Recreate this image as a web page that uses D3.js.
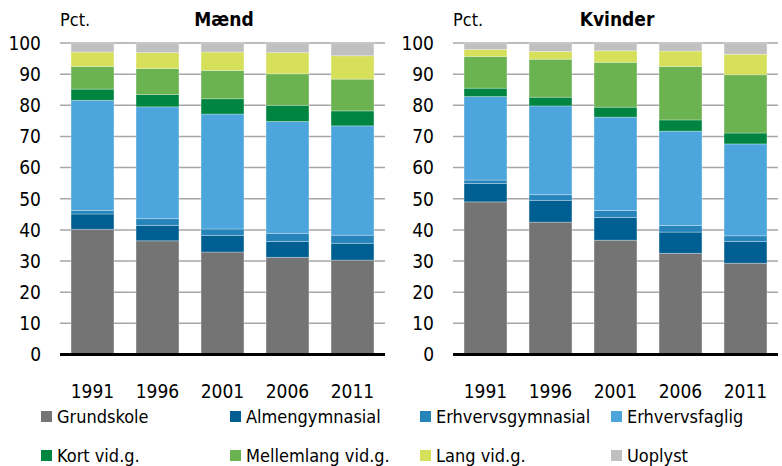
<!DOCTYPE html>
<html>
<head>
<meta charset="utf-8">
<script src="https://cdn.jsdelivr.net/npm/d3@7"></script>
<style>
  body { margin: 0; background: #fff; }
  text { font-family: "DejaVu Sans Condensed", "DejaVu Sans", sans-serif; font-stretch: condensed; fill: #000; }
</style>
</head>
<body>
<div id="chart"></div>
<script>
// Data (percent)
const years = ["1991", "1996", "2001", "2006", "2011"];
const categories = ["Grundskole", "Almengymnasial", "Erhvervsgymnasial", "Erhvervsfaglig",
  "Kort vid.g.", "Mellemlang vid.g.", "Lang vid.g.", "Uoplyst"];
const colors = ["#747474", "#005f92", "#2784bb", "#4ca5dc", "#008540", "#6bb251", "#d7e05a", "#c0c0c0"];
const yTicks = [0, 10, 20, 30, 40, 50, 60, 70, 80, 90, 100];

// one array per year, categories in order above
const maend1991 = [40.2, 4.9, 1.1, 35.4, 3.6, 7.3, 4.6, 2.9];
const maend1996 = [36.5, 4.9, 2.2, 35.9, 4.0, 8.3, 5.1, 3.1];
const maend2001 = [32.9, 5.3, 2.1, 36.9, 4.9, 9.1, 5.9, 2.9];
const maend2006 = [31.2, 5.1, 2.6, 35.9, 5.2, 10.1, 6.8, 3.1];
const maend2011 = [30.3, 5.4, 2.6, 35.1, 4.8, 10.2, 7.5, 4.1];

const kvinder1991 = [49.0, 5.9, 1.1, 26.8, 2.7, 10.2, 2.2, 2.1];
const kvinder1996 = [42.5, 7.0, 1.8, 28.5, 2.8, 12.2, 2.5, 2.7];
const kvinder2001 = [36.7, 7.3, 2.2, 30.0, 3.2, 14.4, 3.7, 2.5];
const kvinder2006 = [32.5, 6.8, 2.1, 30.3, 3.6, 17.2, 4.9, 2.6];
const kvinder2011 = [29.3, 7.0, 1.8, 29.5, 3.5, 18.7, 6.6, 3.6];

const width = 782, height = 466;

const svg = d3.select("#chart")
  .append("svg")
  .attr("width", width)
  .attr("height", height);

// turn per-year arrays into rows for d3.stack
function toRows(arrays) {
  return years.map((yr, i) => {
    const row = { year: yr };
    categories.forEach((c, j) => { row[c] = arrays[i][j]; });
    return row;
  });
}

const stack = d3.stack().keys(categories);

const y = d3.scaleLinear().domain([0, 100]).range([354.5, 43]);

function drawPanel(left, title, arrays) {
  const x = d3.scaleBand().domain(years).range([left, left + 325]).paddingInner(0.34).paddingOuter(0.17);
  const g = svg.append("g");

  // gridlines
  g.append("g")
    .selectAll("line")
    .data(yTicks.filter(d => d > 0))
    .enter()
    .append("line")
    .attr("x1", left)
    .attr("x2", left + 325)
    .attr("y1", d => y(d))
    .attr("y2", d => y(d))
    .attr("stroke", "#a6a6a6")
    .attr("stroke-width", 1.5);

  // bars
  const series = stack(toRows(arrays));
  g.append("g")
    .selectAll("g")
    .data(series)
    .enter()
    .append("g")
    .attr("fill", (d, i) => colors[i])
    .selectAll("rect")
    .data(d => d)
    .enter()
    .append("rect")
    .attr("x", d => x(d.data.year))
    .attr("width", x.bandwidth())
    .attr("y", d => y(d[1]))
    .attr("height", d => y(d[0]) - y(d[1]))
    .attr("stroke", "rgba(255,255,255,0.35)")
    .attr("stroke-width", 0.8);

  // baseline
  g.append("line")
    .attr("x1", left)
    .attr("x2", left + 325)
    .attr("y1", y(0))
    .attr("y2", y(0))
    .attr("stroke", "#000")
    .attr("stroke-width", 3);

  // y labels
  g.append("g")
    .selectAll("text")
    .data(yTicks)
    .enter()
    .append("text")
    .attr("x", left - 19)
    .attr("y", d => y(d))
    .attr("dy", "0.36em")
    .attr("text-anchor", "end")
    .style("font-size", "19px")
    .text(d => d);

  // x labels
  g.append("g")
    .selectAll("text")
    .data(years)
    .enter()
    .append("text")
    .attr("x", d => x(d) + x.bandwidth() / 2)
    .attr("y", 398)
    .attr("text-anchor", "middle")
    .style("font-size", "19px")
    .text(d => d);

  g.append("text")
    .attr("x", left)
    .attr("y", 26)
    .style("font-size", "18px")
    .text("Pct.");

  g.append("text")
    .attr("x", left + 164)
    .attr("y", 26)
    .attr("text-anchor", "middle")
    .style("font-size", "19px")
    .style("font-weight", "bold")
    .text(title);
}

drawPanel(60, "Mænd", [maend1991, maend1996, maend2001, maend2006, maend2011]);
drawPanel(453, "Kvinder", [kvinder1991, kvinder1996, kvinder2001, kvinder2006, kvinder2011]);

// legend
const legendX = [41, 230, 420, 611];
const legendY = [411, 450];
const legend = svg.append("g")
  .selectAll("g")
  .data(categories)
  .enter()
  .append("g")
  .attr("transform", (d, i) => `translate(${legendX[i % 4]},${legendY[Math.floor(i / 4)]})`);

legend.append("rect")
  .attr("width", 11)
  .attr("height", 11)
  .attr("fill", (d, i) => colors[i]);

legend.append("text")
  .attr("x", 16)
  .attr("y", 12)
  .style("font-size", "18px")
  .text(d => d);
</script>
</body>
</html>
